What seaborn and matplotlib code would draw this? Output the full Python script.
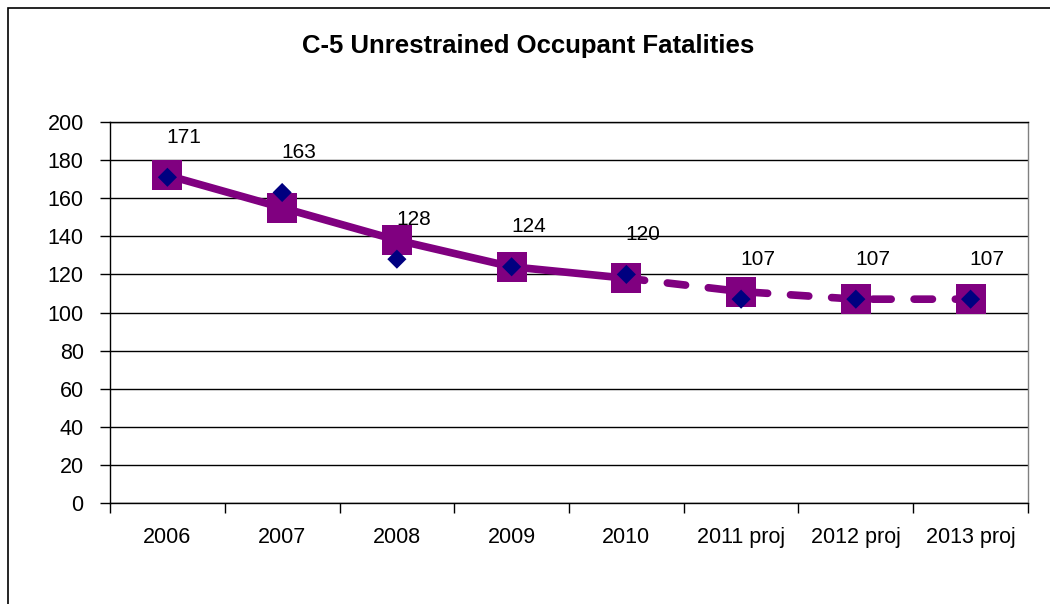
import numpy as np
import pandas as pd
import matplotlib
matplotlib.use("Agg")
import matplotlib.pyplot as plt
from matplotlib.patches import Rectangle
import seaborn as sns

categories = ["2006", "2007", "2008", "2009", "2010", "2011 proj", "2012 proj", "2013 proj"]
fatalities = [171, 163, 128, 124, 120, 107, 107, 107]
trend = [172, 155, 138, 124, 118, 111, 107, 107]
last_actual = 4  # index of last actual year (2010); trend dashed after it
y_ticks = [0, 20, 40, 60, 80, 100, 120, 140, 160, 180, 200]

sns.set_theme(style="white")
plt.rcParams["font.family"] = ["Liberation Sans", "DejaVu Sans"]

fig = plt.figure(figsize=(10.5, 6.04), dpi=100)
ax = fig.add_axes([0.1048, 0.1672, 0.979 - 0.1048, 0.798 - 0.1672])

pos = np.arange(len(categories))
df = pd.DataFrame({"pos": pos, "cat": categories, "value": fatalities, "trend": trend})

purple = "#800080"
navy = "#000080"

solid = df.iloc[: last_actual + 1]
dashed = df.iloc[last_actual:]
sns.lineplot(data=solid, x="pos", y="trend", ax=ax, color=purple, lw=5.5,
             marker="s", markersize=21, markeredgewidth=0, zorder=3,
             solid_capstyle="round")
sns.lineplot(data=dashed, x="pos", y="trend", ax=ax, color=purple, lw=5.5,
             marker="s", markersize=21, markeredgewidth=0, zorder=3,
             dashes=False)
ax.lines[-1].set_dashes((2.4, 3.0))
ax.lines[-1].set_dash_capstyle("round")

sns.scatterplot(data=df, x="pos", y="value", ax=ax, marker="D", s=95,
                color=navy, edgecolor="none", zorder=4)

for p, v in zip(pos, fatalities):
    ax.annotate(str(v), (p, v), xytext=(12, 22), textcoords="offset points",
                ha="center", va="bottom", fontsize=15, color="black")

ax.set_xlim(-0.5, len(categories) - 0.5)
ax.set_ylim(0, 200)
ax.set_yticks(y_ticks)
ax.set_xticks(pos)
ax.set_xticklabels(categories)
ax.set_xticks(np.arange(-0.5, len(categories)), minor=True)
ax.set_xlabel("")
ax.set_ylabel("")
ax.grid(axis="y", color="black", lw=1)
ax.set_axisbelow(True)
ax.tick_params(axis="x", which="major", length=0, pad=17, labelsize=15.5, colors="black")
ax.tick_params(axis="x", which="minor", length=7, width=1, color="black", direction="out", bottom=True)
ax.tick_params(axis="y", length=7, width=1, color="black", direction="out", left=True, pad=12, labelsize=15.5, labelcolor="black")
for s in ["left", "bottom", "top"]:
    ax.spines[s].set_color("black")
    ax.spines[s].set_linewidth(1)
ax.spines["right"].set_color("#808080")
ax.spines["right"].set_linewidth(1)

fig.text(0.503, 0.924, "C-5 Unrestrained Occupant Fatalities", ha="center", va="center",
         fontsize=18.5, fontweight="bold", color="black")

fig.patches.append(Rectangle((8 / 1050, -0.1), 1.2, 1 - 8 / 604 + 0.1, transform=fig.transFigure,
                             fill=False, edgecolor="black", lw=1.2, clip_on=False))

fig.savefig("out.png", dpi=100, facecolor="white")
